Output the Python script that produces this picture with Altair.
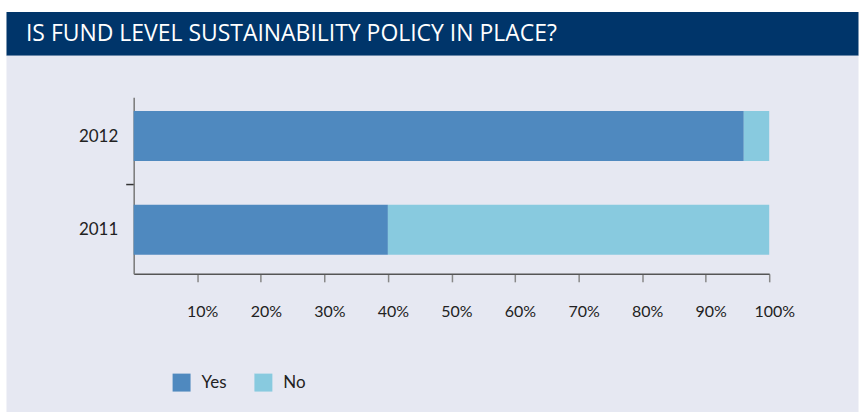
import altair as alt
import pandas as pd

TITLE = "IS FUND LEVEL SUSTAINABILITY POLICY IN PLACE?"
years = ["2012", "2011"]
answers = ["Yes", "No"]
yes_pct = [96, 40]
no_pct = [4, 60]
tick_values = [10, 20, 30, 40, 50, 60, 70, 80, 90, 100]
colors = ["#4F89BF", "#88CADF"]

rows = []
for i, y in enumerate(years):
    rows.append({"year": y, "answer": "Yes", "pct": yes_pct[i], "ord": 0})
    rows.append({"year": y, "answer": "No", "pct": no_pct[i], "ord": 1})
df = pd.DataFrame(rows)

FONT = "Lato"
W = 854

header = alt.Chart(alt.Data(values=[{}])).mark_text(
    align="left", baseline="alphabetic", font="Open Sans", fontSize=23, color="white"
).encode(
    x=alt.value(20), y=alt.value(29.5), text=alt.value(TITLE)
).properties(width=W, height=44, view=alt.ViewBackground(fill="#00356A", stroke="transparent"))

main = alt.Chart(df).mark_bar().encode(
    x=alt.X("pct:Q", stack="zero",
            scale=alt.Scale(domain=[0, 100], range=[128, 765]),
            axis=alt.Axis(title=None, values=tick_values, grid=False, offset=-139,
                          labelExpr="datum.value + '%'", labelFont=FONT, labelFontSize=16,
                          labelColor="#222", labelPadding=22, labelOffset=5, labelFlush=False,
                          tickSize=8, tickColor="#888", tickWidth=1.5,
                          domainColor="#555", domainWidth=1.5)),
    y=alt.Y("year:N", sort=years,
            scale=alt.Scale(domain=years, range=[42, 219], paddingInner=0.468,
                            paddingOuter=0.1755, align=0.42),
            axis=alt.Axis(title=None, grid=False, offset=-128,
                          tickOffset=48, labelOffset=-48,
                          tickSize=8, tickWidth=1.5, tickColor="#333",
                          tickOpacity={"condition": {"test": "datum.value === '2012'", "value": 1}, "value": 0},
                          labelFont=FONT, labelFontSize=17, labelColor="#222",
                          labelPadding=8, domainColor="#777", domainWidth=1.5)),
    color=alt.Color("answer:N", sort=answers,
                    scale=alt.Scale(domain=answers, range=colors),
                    legend=alt.Legend(title=None, orient="none", legendX=167, legendY=363,
                                      direction="horizontal", symbolType="square",
                                      symbolSize=324, symbolStrokeWidth=0, symbolOpacity=1,
                                      labelFont=FONT, labelFontSize=17, labelColor="#222",
                                      labelOffset=11, columnPadding=27, padding=0)),
    order=alt.Order("ord:Q"),
).properties(width=W, height=358, view=alt.ViewBackground(fill="#E6E8F2", stroke="transparent"))

chart = alt.vconcat(header, main, spacing=0, bounds="flush").properties(
    background="white",
    padding={"left": 5, "top": 10, "right": 0, "bottom": 0},
).configure_view(stroke="transparent")

chart.save("out.html", embed_options={"renderer": "svg", "actions": False})
